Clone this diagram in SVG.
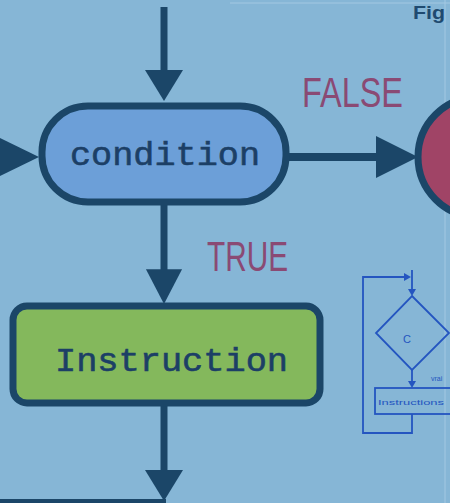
<svg xmlns="http://www.w3.org/2000/svg" width="450" height="503" viewBox="0 0 450 503">
  <defs>
    <style>
      .ln { stroke: #1b4668; fill: none; stroke-linecap: butt; }
      .ah { fill: #1b4668; }
      .node { stroke: #1b4668; stroke-width: 7; }
      .code { font-family: "Liberation Mono", "Courier New", monospace; font-size: 34px; fill: #1c3f66; stroke: #1c3f66; stroke-width: 0.6; }
      .lbl { font-family: "Liberation Sans", Arial, sans-serif; font-size: 43px; fill: #8a4a74; }
      .thin { stroke: #2455c0; stroke-width: 1.8; fill: none; }
      .thintxt { font-family: "Liberation Sans", Arial, sans-serif; fill: #2455c0; }
    </style>
    <polygon id="ahv" points="-19,-31 19,-31 0,0"/>
    <polygon id="ahh" points="-42,-21 -42,21 0,0"/>
    <polygon id="ahs" points="-4,-3 4,-3 0,4"/>
  </defs>

  <rect x="0" y="0" width="450" height="503" fill="#86b6d6"/>
  <line x1="230" y1="3" x2="450" y2="3" stroke="#a3c8e2" stroke-width="1"/>
  <line x1="445" y1="0" x2="445" y2="503" stroke="#a3c8e2" stroke-width="1"/>

  <text id="fig" x="413" y="19" font-family="Liberation Sans, Arial, sans-serif" font-weight="bold" font-size="18" fill="#1f4a70" textLength="32" lengthAdjust="spacingAndGlyphs">Fig</text>

  <g id="connectors">
    <line class="ln" x1="164" y1="7" x2="164" y2="74" stroke-width="7"/>
    <use href="#ahv" class="ah" transform="translate(164,101)"/>
    <polygon class="ah" points="-4,136 39,157 -4,178"/>
    <line class="ln" x1="286" y1="157" x2="380" y2="157" stroke-width="8"/>
    <use href="#ahh" class="ah" transform="translate(418,157)"/>
    <line class="ln" x1="164" y1="202" x2="164" y2="272" stroke-width="7"/>
    <use href="#ahv" class="ah" transform="translate(164,304) scale(0.95,1.12)"/>
    <line class="ln" x1="164" y1="403" x2="164" y2="472" stroke-width="7"/>
    <use href="#ahv" class="ah" transform="translate(164,501)"/>
    <line class="ln" x1="0" y1="501" x2="166" y2="501" stroke-width="4"/>
  </g>

  <g id="label-false">
    <text class="lbl" x="302" y="107" textLength="101" lengthAdjust="spacingAndGlyphs">FALSE</text>
  </g>
  <g id="label-true">
    <text class="lbl" x="207" y="271" textLength="81" lengthAdjust="spacingAndGlyphs">TRUE</text>
  </g>

  <g id="condition">
    <rect class="node" x="42" y="106" width="244" height="96" rx="46" ry="46" fill="#6c9fd8"/>
    <text class="code" x="70" y="165" textLength="190" lengthAdjust="spacingAndGlyphs">condition</text>
  </g>

  <g id="end">
    <circle class="node" cx="478" cy="157" r="60" fill="#a04466"/>
  </g>

  <g id="instruction">
    <rect class="node" x="13" y="306" width="307" height="97" rx="14" ry="14" fill="#84b85c" stroke-width="8"/>
    <text class="code" x="55" y="371" textLength="233" lengthAdjust="spacingAndGlyphs">Instruction</text>
  </g>

  <g id="thumbnail">
    <path class="thin" d="M412,414 L412,433 L363,433 L363,277 L405,277"/>
    <polygon fill="#2455c0" points="404,273 411,277 404,281"/>
    <line class="thin" x1="412" y1="270" x2="412" y2="292"/>
    <use href="#ahs" fill="#2455c0" transform="translate(412,292)"/>
    <path class="thin" d="M412,296 L449,333 L412,370 L376,333 Z"/>
    <text class="thintxt" x="403" y="343" font-size="11">C</text>
    <line class="thin" x1="412" y1="370" x2="412" y2="384"/>
    <use href="#ahs" fill="#2455c0" transform="translate(412,384)"/>
    <text class="thintxt" x="431" y="381" font-size="7">vrai</text>
    <rect class="thin" x="375" y="388" width="80" height="26"/>
    <text class="thintxt" x="378" y="405" font-size="8" textLength="66" lengthAdjust="spacingAndGlyphs">Instructions</text>
  </g>
</svg>
